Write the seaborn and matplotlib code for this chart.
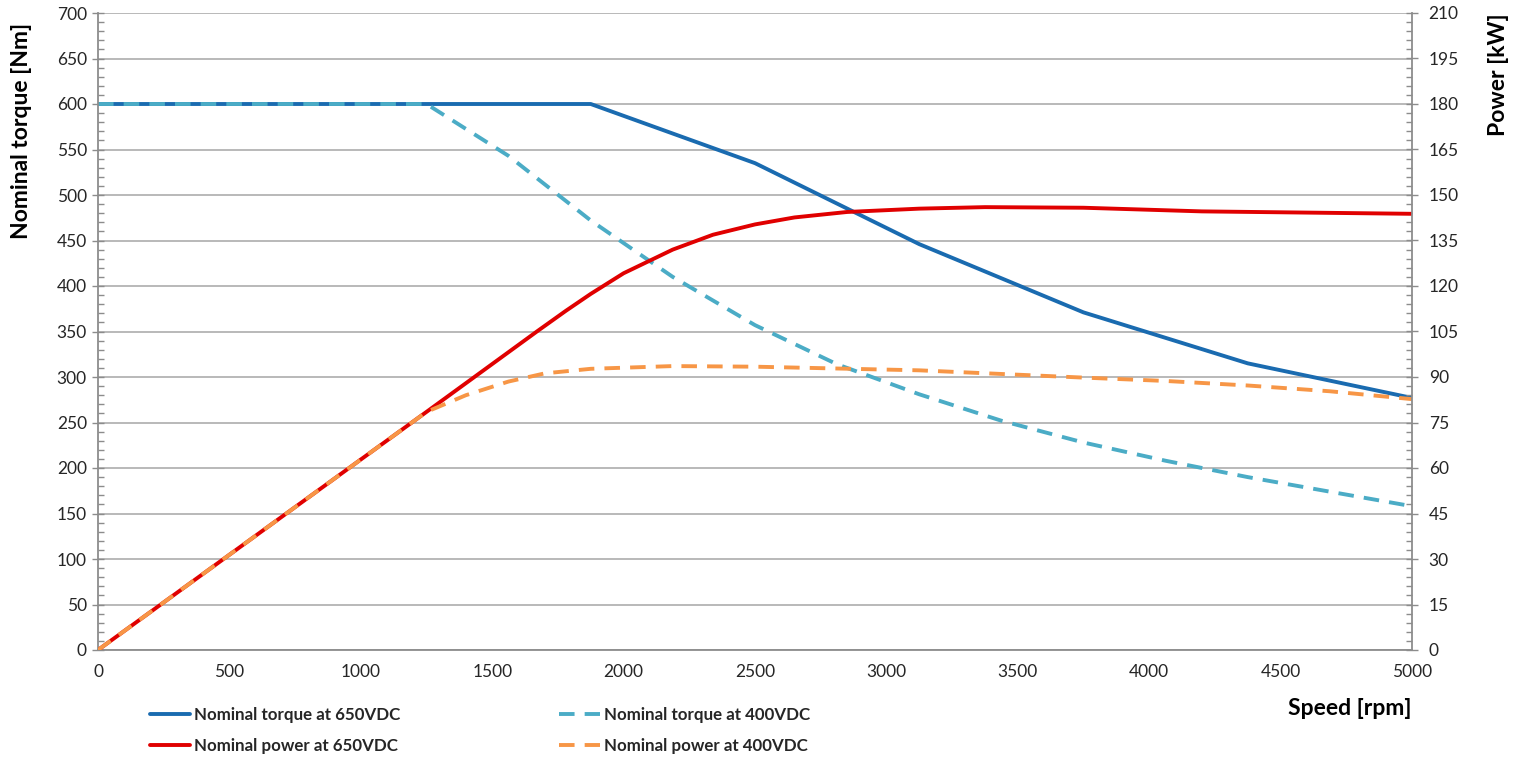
import matplotlib
matplotlib.use("Agg")
import matplotlib.pyplot as plt
import seaborn as sns
from matplotlib.ticker import MultipleLocator

# values
speed_t650 = [0, 1875, 2500, 3125, 3750, 4375, 5000]
torque_650 = [600, 600, 535, 446, 371, 315, 277]

speed_t400 = [0, 1250, 1562, 1875, 2187, 2500, 2812, 3125, 3437, 3750, 4062, 4375, 4687, 5000]
torque_400 = [600, 600, 543, 472, 410, 357, 314, 281, 252, 228, 208, 190, 174, 158]

speed_p650 = [0, 1250, 1670, 1780, 1875, 2000, 2187, 2340, 2500, 2650, 2850, 3125, 3375, 3750, 4200, 4600, 5000]
power_650 = [0, 78.5, 105, 111.8, 117.4, 124.2, 132, 136.9, 140.3, 142.6, 144.4, 145.5, 146, 145.8, 144.6, 144.2, 143.8]

speed_p400 = [0, 1250, 1400, 1562, 1700, 1875, 2187, 2500, 2812, 3125, 3437, 3750, 4062, 4375, 4687, 5000]
power_400 = [0, 78.5, 84, 88.5, 91.2, 92.7, 93.6, 93.4, 92.8, 92.2, 91.0, 89.8, 88.7, 87.2, 85.3, 82.7]

labels = ["Nominal torque at 650VDC", "Nominal power at 650VDC",
          "Nominal torque at 400VDC", "Nominal power at 400VDC"]

sns.set_style("white")
plt.rcParams["font.family"] = ["Lato", "DejaVu Sans"]

grey = "#8c8c8c"
txt = "#262626"
lw = 2.8
dash = (0, (4, 2.6))

fig = plt.figure(figsize=(15.24, 7.58), dpi=100)
ax = fig.add_axes([98 / 1524, 108 / 758, 1314 / 1524, 637 / 758])
ax2 = ax.twinx()

sns.lineplot(x=speed_t650, y=torque_650, ax=ax, color="#1a6bb0", lw=lw, label=labels[0])
sns.lineplot(x=speed_t400, y=torque_400, ax=ax, color="#4bacc6", lw=lw, linestyle=dash, label=labels[2])
sns.lineplot(x=speed_p650, y=power_650, ax=ax2, color="#e00000", lw=lw, label=labels[1])
sns.lineplot(x=speed_p400, y=power_400, ax=ax2, color="#f79646", lw=lw, linestyle=dash, label=labels[3])

h1, lab1 = ax.get_legend_handles_labels()
h2, lab2 = ax2.get_legend_handles_labels()
for a in (ax, ax2):
    if a.get_legend() is not None:
        a.get_legend().remove()
handles = dict(zip(lab1 + lab2, h1 + h2))

ax.set_xlim(0, 5000)
ax.set_ylim(0, 700)
ax2.set_ylim(0, 210)

ax.xaxis.set_major_locator(MultipleLocator(500))
ax.xaxis.set_minor_locator(MultipleLocator(100))
ax.yaxis.set_major_locator(MultipleLocator(50))
ax.yaxis.set_minor_locator(MultipleLocator(10))
ax2.yaxis.set_major_locator(MultipleLocator(15))
ax2.yaxis.set_minor_locator(MultipleLocator(3))

ax.grid(axis="y", color="#a6a6a6", lw=1.1)
ax.grid(axis="x", visible=False)
ax.set_axisbelow(True)

for a in (ax, ax2):
    for s in a.spines.values():
        s.set_visible(False)
ax.spines["left"].set_visible(True)
ax.spines["bottom"].set_visible(True)
ax2.spines["right"].set_visible(True)
for s in (ax.spines["left"], ax.spines["bottom"], ax2.spines["right"]):
    s.set_color(grey)
    s.set_linewidth(1.3)

for a in (ax, ax2):
    a.tick_params(which="major", direction="inout", length=8, width=1, color=grey,
                  labelsize=12.5, labelcolor=txt)
    a.tick_params(which="minor", direction="in", length=4, width=1, color=grey)
ax.tick_params(axis="x", pad=6)
ax.tick_params(axis="y", pad=4)
ax2.tick_params(axis="y", pad=8)

ax.set_ylabel("Nominal torque [Nm]", fontsize=16.5, fontweight="bold", color="black", loc="top")
ax.yaxis.set_label_coords(-0.05, 0.985)
ax2.set_ylabel("Power [kW]", fontsize=16.5, fontweight="bold", color="black", loc="top")
ax2.yaxis.set_label_coords(1.058, 1.0)
ax.set_xlabel("Speed [rpm]", fontsize=16.5, fontweight="bold", color="black", loc="right", labelpad=13)

fig.legend([handles[l] for l in labels], labels, loc="upper left",
           bbox_to_anchor=(143 / 1524, 1 - 700 / 758), ncol=2, frameon=False,
           prop={"size": 12.2, "weight": "bold"}, handlelength=2.4, handletextpad=0.2,
           columnspacing=9.4, labelspacing=0.9, borderaxespad=0)

fig.savefig("out.png", dpi=100)
